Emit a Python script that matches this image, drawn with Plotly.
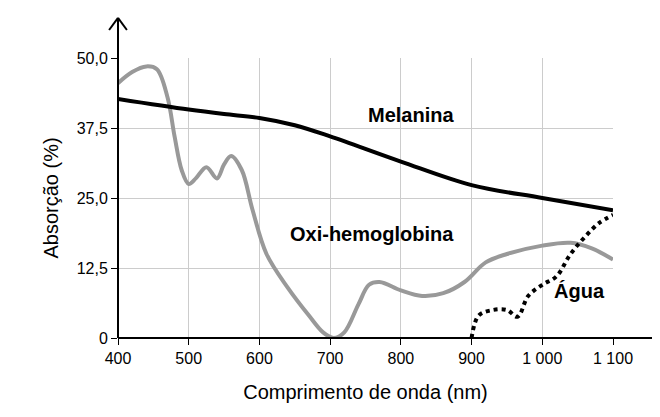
import plotly.graph_objects as go

mel_x = [400, 500, 550, 600, 650, 700, 800, 900, 1000, 1100]
mel_y = [42.7, 40.8, 40.0, 39.3, 38.0, 36.0, 31.5, 27.3, 25.0, 22.8]
oxi_x = [400, 420, 440, 455, 470, 480, 490, 500, 510, 525, 540, 550, 560, 575, 590, 610, 640, 670, 690, 705, 720, 740, 755, 770, 800, 830, 860, 890, 920, 950, 1000, 1040, 1070, 1100]
oxi_y = [45.5, 47.5, 48.5, 48, 43, 36, 30, 27.5, 28.5, 30.5, 28.5, 31, 32.5, 30, 23, 15, 9, 4, 1, 0, 1, 6, 9.5, 10, 8.5, 7.5, 8, 10, 13.5, 15, 16.5, 17, 16, 14]
agua_x = [900, 910, 930, 950, 965, 980, 1000, 1020, 1040, 1060, 1080, 1100]
agua_y = [0, 4, 5, 5, 3.8, 7.5, 9.5, 11, 15, 18, 20.5, 22]
x_ticks = [400, 500, 600, 700, 800, 900, 1000, 1100]
x_labels = ["400", "500", "600", "700", "800", "900", "1 000", "1 100"]
y_ticks = [0, 12.5, 25, 37.5, 50]
y_labels = ["0", "12,5", "25,0", "37,5", "50,0"]

fig = go.Figure()
fig.add_trace(go.Scatter(x=oxi_x, y=oxi_y, mode="lines", line=dict(color="#999999", width=4, shape="spline")))
fig.add_trace(go.Scatter(x=mel_x, y=mel_y, mode="lines", line=dict(color="black", width=4, shape="spline")))
fig.add_trace(go.Scatter(x=agua_x, y=agua_y, mode="lines", line=dict(color="black", width=4, dash="dot", shape="spline")))

f = dict(family="Liberation Sans, Arial", size=20, color="black")
for t, x, y in [("Melanina", 814, 39.8), ("Oxi-hemoglobina", 759, 18.6), ("Água", 1053, 8.4)]:
    fig.add_annotation(x=x, y=y, text="<b>" + t + "</b>", showarrow=False, font=f)

L = dict(color="black", width=2)
P = dict(xref="paper", yref="paper", type="line", line=L)
fig.add_shape(x0=0, y0=0, x1=1.101, y1=0, **P)
fig.add_shape(x0=1.08, y0=0.03, x1=1.101, y1=0, **P)
fig.add_shape(x0=1.08, y0=-0.03, x1=1.101, y1=0, **P)
fig.add_shape(x0=0, y0=0, x1=0, y1=1.143, **P)
fig.add_shape(x0=-0.018, y0=1.1, x1=0, y1=1.143, **P)
fig.add_shape(x0=0.018, y0=1.1, x1=0, y1=1.143, **P)

tf = dict(family="Liberation Sans, Arial", size=16, color="black")
tt = dict(family="Liberation Sans, Arial", size=20, color="black")
fig.update_layout(
    width=660, height=417, showlegend=False, plot_bgcolor="white", paper_bgcolor="white",
    margin=dict(l=110, r=55, t=50, b=87),
    xaxis=dict(range=[400, 1100], tickvals=x_ticks, ticktext=x_labels, showgrid=True, gridcolor="#cccccc",
               zeroline=False, tickfont=tf, ticks="outside", ticklen=6, tickcolor="black", automargin=False,
               title=dict(text="Comprimento de onda (nm)", font=tt, standoff=18)),
    yaxis=dict(range=[0, 50], tickvals=y_ticks, ticktext=y_labels, showgrid=True, gridcolor="#cccccc",
               zeroline=False, tickfont=tf, ticks="outside", ticklen=6, tickcolor="black", automargin=False,
               title=dict(text="Absorção (%)", font=tt, standoff=12)),
)
fig.update_traces(cliponaxis=False)
fig.write_html("out.html")
